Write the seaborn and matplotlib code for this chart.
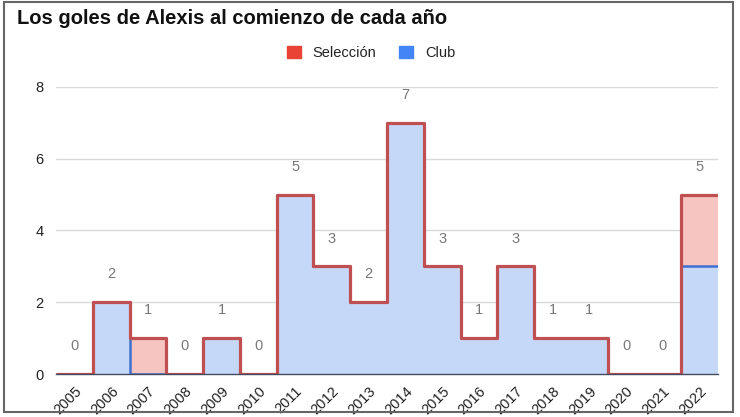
import numpy as np
import matplotlib
matplotlib.use("Agg")
import matplotlib.pyplot as plt
import matplotlib.patches as mpatches
import seaborn as sns

# datos
years = [str(y) for y in range(2005, 2023)]
club = [0, 2, 0, 0, 1, 0, 5, 3, 2, 7, 3, 1, 3, 1, 1, 0, 0, 3]
seleccion = [0, 0, 1, 0, 0, 0, 0, 0, 0, 0, 0, 0, 0, 0, 0, 0, 0, 2]
yticks = [0, 2, 4, 6, 8]

sns.set_theme(style="white")
plt.rcParams['font.family'] = ['Liberation Sans', 'DejaVu Sans']

club = np.array(club)
seleccion = np.array(seleccion)
total = club + seleccion
edges = np.arange(len(years) + 1)

fig = plt.figure(figsize=(7.4, 4.17), dpi=100)
ax = fig.add_axes([56 / 740, 43 / 417, 662 / 740, 287 / 417])

blue_fill = '#c6d8f7'
red_fill = '#f7c5c1'
blue_line = '#3f6fcf'
red_line = '#bf4f50'

# áreas escalonadas apiladas
ax.stairs(club, edges, baseline=0, fill=True, color=blue_fill, lw=0)
ax.stairs(total, edges, baseline=club, fill=True, color=red_fill, lw=0)
ax.stairs(club, edges, baseline=None, color=blue_line, lw=1.8, joinstyle='round')
ax.stairs(total, edges, baseline=None, color=red_line, lw=2.3, joinstyle='round')

# etiquetas de totales
for i, v in enumerate(total):
    ax.annotate(str(v), (i + 0.5, v), xytext=(0, 20), textcoords='offset points',
                ha='center', va='center', fontsize=10.5, color='#777777')

ax.set_xlim(0, len(years))
ax.set_ylim(0, 8)
ax.set_yticks(yticks)
ax.set_yticklabels([str(t) for t in yticks], fontsize=10.5, color='#222222')
ax.set_xticks(edges[:-1] + 0.5)
ax.set_xticklabels(years, rotation=45, ha='right', va='top', rotation_mode='anchor',
                   fontsize=10.5, color='#222222')
ax.tick_params(axis='x', length=0, pad=7)
ax.tick_params(axis='y', length=0, pad=9)
ax.grid(axis='y', color='#d9d9d9', lw=1)
ax.set_axisbelow(True)
for s in ['top', 'right', 'left']:
    ax.spines[s].set_visible(False)
ax.spines['bottom'].set_color('#444a60')
ax.spines['bottom'].set_linewidth(1)

fig.text(17 / 740, 1 - 18 / 417, 'Los goles de Alexis al comienzo de cada año',
         fontsize=14.5, fontweight='bold', color='#111111', ha='left', va='center')

handles = [mpatches.Patch(color='#e94335', label='Selección'),
           mpatches.Patch(color='#4385f4', label='Club')]
fig.legend(handles=handles, loc='center', bbox_to_anchor=(371 / 740, 1 - 53 / 417),
           ncol=2, frameon=False, fontsize=10.5, handlelength=0.95, handleheight=0.95,
           columnspacing=1.6, handletextpad=0.8, labelcolor='#222222')

fig.patches.append(mpatches.Rectangle((4 / 740, 5 / 417), 729 / 740, 410 / 417,
                                      transform=fig.transFigure, fill=False,
                                      ec='#666666', lw=1.5))

fig.savefig('out.png', dpi=100)
